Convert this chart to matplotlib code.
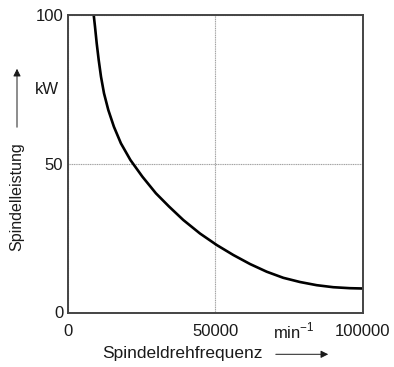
import matplotlib
matplotlib.use("Agg")
import matplotlib.pyplot as plt
from matplotlib.patches import FancyArrowPatch

# Spindelleistung über Spindeldrehfrequenz
drehzahl = [8730, 9170, 9745, 10424, 11205, 12224, 13684, 15586, 17963,
            21189, 25263, 29847, 34295, 39151, 44822, 50492, 56129, 61800,
            67470, 73107, 78778, 84448, 90085, 95756, 100000]
leistung = [100, 96.07, 90.49, 84.87, 79.26, 73.68, 68.07, 62.45, 56.87,
            51.26, 45.65, 40.07, 35.63, 31.09, 26.55, 22.69, 19.33, 16.30,
            13.71, 11.66, 10.25, 9.18, 8.50, 8.17, 8.07]

x_ticks = [0, 50000, 100000]
x_ticklabels = ["0", "50000", "100000"]
y_ticks = [0, 50, 100]
y_ticklabels = ["0", "50", "100"]

plt.rcParams['font.family'] = ['Liberation Sans', 'DejaVu Sans']
plt.rcParams['mathtext.fontset'] = 'custom'
plt.rcParams['mathtext.rm'] = 'Liberation Sans'

txt = '#1a1a1a'

fig = plt.figure(figsize=(3.94, 3.67), dpi=100)
ax = fig.add_axes([68 / 394, 54.5 / 367, 294.5 / 394, 297.5 / 367])

ax.plot(drehzahl, leistung, color='black', lw=1.9, solid_capstyle='butt',
        solid_joinstyle='round')

ax.set_xlim(0, 100000)
ax.set_ylim(0, 100)
ax.set_xticks(x_ticks)
ax.set_xticklabels(x_ticklabels)
ax.set_yticks(y_ticks)
ax.set_yticklabels(y_ticklabels)
ax.tick_params(length=0, labelsize=12, colors=txt)
ax.tick_params(axis='x', pad=8)
ax.tick_params(axis='y', pad=3.5)
ax.grid(True, color='#a0a0a0', lw=0.8, linestyle=(0, (1, 0.6)))
for s in ax.spines.values():
    s.set_color('#444444')
    s.set_linewidth(1.4)

fig.text(182.5 / 394, 9 / 367, "Spindeldrehfrequenz", fontsize=12.5,
         ha='center', va='baseline', color=txt)
fig.text(294 / 394, 29 / 367, r"min$^{\mathregular{-1}}$", fontsize=12,
         ha='center', va='baseline', color=txt)
fig.text(17 / 394, 170.5 / 367, "Spindelleistung", fontsize=11.5, rotation=90,
         ha='center', va='center', color=txt)
fig.text(46.5 / 394, 277 / 367, "kW", fontsize=12, ha='center', va='center',
         color=txt)

arrow = dict(arrowstyle='-|>', color=txt, lw=0.7, mutation_scale=11)
fig.add_artist(FancyArrowPatch((273 / 394, 12.7 / 367), (331 / 394, 12.7 / 367),
                               transform=fig.transFigure, **arrow))
fig.add_artist(FancyArrowPatch((17 / 394, 237 / 367), (17 / 394, 301 / 367),
                               transform=fig.transFigure, **arrow))

fig.savefig("out.png", dpi=100)
